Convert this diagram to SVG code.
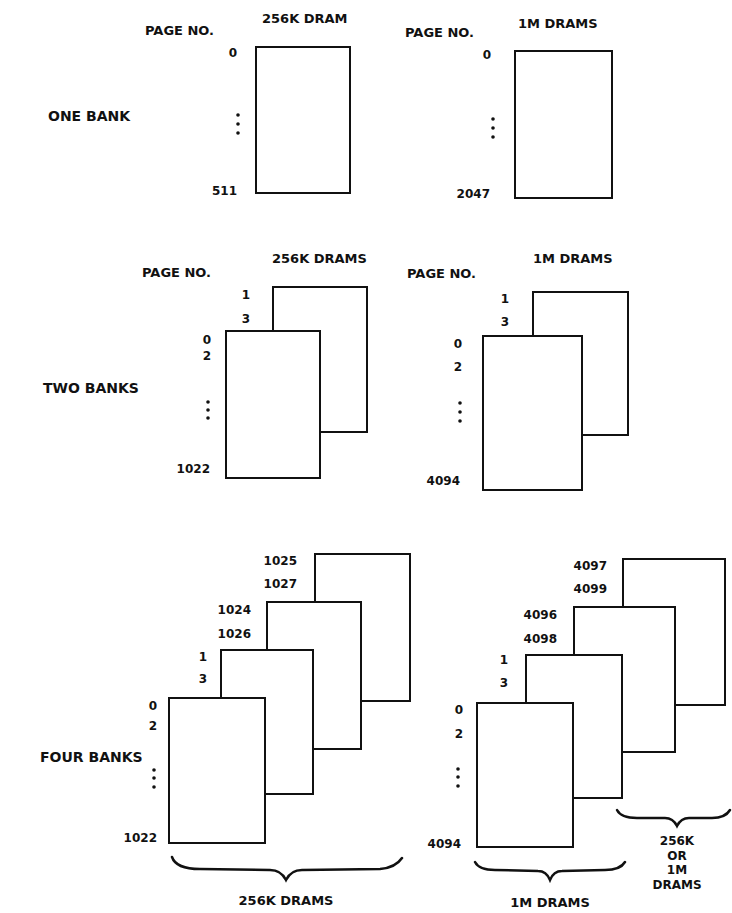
<svg xmlns="http://www.w3.org/2000/svg" width="732" height="913" viewBox="0 0 732 913">
<style>
text{font-family:"DejaVu Sans","Liberation Sans",sans-serif;font-weight:bold;fill:#111}
.w{font-size:13px}
.s{font-size:12px}
.r{font-size:14px}
.n{font-size:12px;text-anchor:end}
.c{text-anchor:middle}
.b{fill:#fff;stroke:#111;stroke-width:2}
.d{fill:#111}
.br{fill:none;stroke:#111;stroke-width:2.5;stroke-linecap:round}
</style>
<rect width="732" height="913" fill="#fff"/>
<g id="row-labels">
<text class="r" x="48" y="121">ONE BANK</text>
<text class="r" x="43" y="393">TWO BANKS</text>
<text class="r" x="40" y="762">FOUR BANKS</text>
</g>
<g id="one-bank-256k">
<text class="w" x="145" y="35">PAGE NO.</text>
<text class="w" x="262" y="23">256K DRAM</text>
<rect class="b" x="256" y="47" width="94" height="146"/>
<text class="n" x="237" y="57">0</text>
<circle class="d" cx="238" cy="115" r="1.8"/><circle class="d" cx="238" cy="124" r="1.8"/><circle class="d" cx="238" cy="133" r="1.8"/>
<text class="n" x="237" y="195">511</text>
</g>
<g id="one-bank-1m">
<text class="w" x="405" y="37">PAGE NO.</text>
<text class="w" x="518" y="28">1M DRAMS</text>
<rect class="b" x="515" y="51" width="97" height="147"/>
<text class="n" x="491" y="59">0</text>
<circle class="d" cx="493" cy="119" r="1.8"/><circle class="d" cx="493" cy="128" r="1.8"/><circle class="d" cx="493" cy="137" r="1.8"/>
<text class="n" x="490" y="198">2047</text>
</g>
<g id="two-banks-256k">
<text class="w" x="142" y="277">PAGE NO.</text>
<text class="w" x="272" y="263">256K DRAMS</text>
<rect class="b" x="273" y="287" width="94" height="145"/>
<rect class="b" x="226" y="331" width="94" height="147"/>
<text class="n" x="250" y="299">1</text>
<text class="n" x="250" y="323">3</text>
<text class="n" x="211" y="344">0</text>
<text class="n" x="211" y="360">2</text>
<circle class="d" cx="208" cy="402" r="1.8"/><circle class="d" cx="208" cy="410" r="1.8"/><circle class="d" cx="208" cy="418" r="1.8"/>
<text class="n" x="210" y="473">1022</text>
</g>
<g id="two-banks-1m">
<text class="w" x="407" y="278">PAGE NO.</text>
<text class="w" x="533" y="263">1M DRAMS</text>
<rect class="b" x="533" y="292" width="95" height="143"/>
<rect class="b" x="483" y="336" width="99" height="154"/>
<text class="n" x="509" y="303">1</text>
<text class="n" x="509" y="326">3</text>
<text class="n" x="462" y="348">0</text>
<text class="n" x="462" y="371">2</text>
<circle class="d" cx="460" cy="403" r="1.8"/><circle class="d" cx="460" cy="412" r="1.8"/><circle class="d" cx="460" cy="421" r="1.8"/>
<text class="n" x="460" y="485">4094</text>
</g>
<g id="four-banks-256k">
<rect class="b" x="315" y="554" width="95" height="147"/>
<rect class="b" x="267" y="602" width="94" height="147"/>
<rect class="b" x="221" y="650" width="92" height="144"/>
<rect class="b" x="169" y="698" width="96" height="145"/>
<text class="n" x="297" y="565">1025</text>
<text class="n" x="297" y="588">1027</text>
<text class="n" x="251" y="614">1024</text>
<text class="n" x="251" y="638">1026</text>
<text class="n" x="207" y="661">1</text>
<text class="n" x="207" y="683">3</text>
<text class="n" x="157" y="710">0</text>
<text class="n" x="157" y="730">2</text>
<circle class="d" cx="154" cy="770" r="1.8"/><circle class="d" cx="154" cy="778" r="1.8"/><circle class="d" cx="154" cy="787" r="1.8"/>
<text class="n" x="157" y="842">1022</text>
</g>
<g id="four-banks-1m">
<rect class="b" x="623" y="559" width="102" height="146"/>
<rect class="b" x="574" y="607" width="101" height="145"/>
<rect class="b" x="526" y="655" width="96" height="143"/>
<rect class="b" x="477" y="703" width="96" height="144"/>
<text class="n" x="607" y="570">4097</text>
<text class="n" x="607" y="593">4099</text>
<text class="n" x="557" y="619">4096</text>
<text class="n" x="557" y="643">4098</text>
<text class="n" x="508" y="664">1</text>
<text class="n" x="508" y="687">3</text>
<text class="n" x="463" y="714">0</text>
<text class="n" x="463" y="738">2</text>
<circle class="d" cx="458" cy="769" r="1.8"/><circle class="d" cx="458" cy="777" r="1.8"/><circle class="d" cx="458" cy="786" r="1.8"/>
<text class="n" x="461" y="848">4094</text>
</g>
<g id="connectors">
<path class="br" d="M172,857 C175,866 185,869 200,869 L270,870 C278,870 283,874 286,880 C289,874 294,870 302,870 L380,869 C392,868 398,864 402,858"/>
<path class="br" d="M475,862 C478,868 485,870 495,870 L538,871 C545,871 548,875 550,880 C552,875 555,871 562,871 L605,870 C615,870 622,867 625,862"/>
<path class="br" d="M617,810 C620,816 627,818 637,818 L665,818 C672,818 675,822 677,826 C679,822 682,818 689,818 L712,818 C722,818 727,815 730,810"/>
</g>
<g id="brace-labels">
<text class="w c" x="286" y="905">256K DRAMS</text>
<text class="w c" x="550" y="907">1M DRAMS</text>
<text class="s c" x="677" y="845">256K</text>
<text class="s c" x="677" y="859.5">OR</text>
<text class="s c" x="677" y="874">1M</text>
<text class="s c" x="677" y="888.5">DRAMS</text>
</g>
</svg>
